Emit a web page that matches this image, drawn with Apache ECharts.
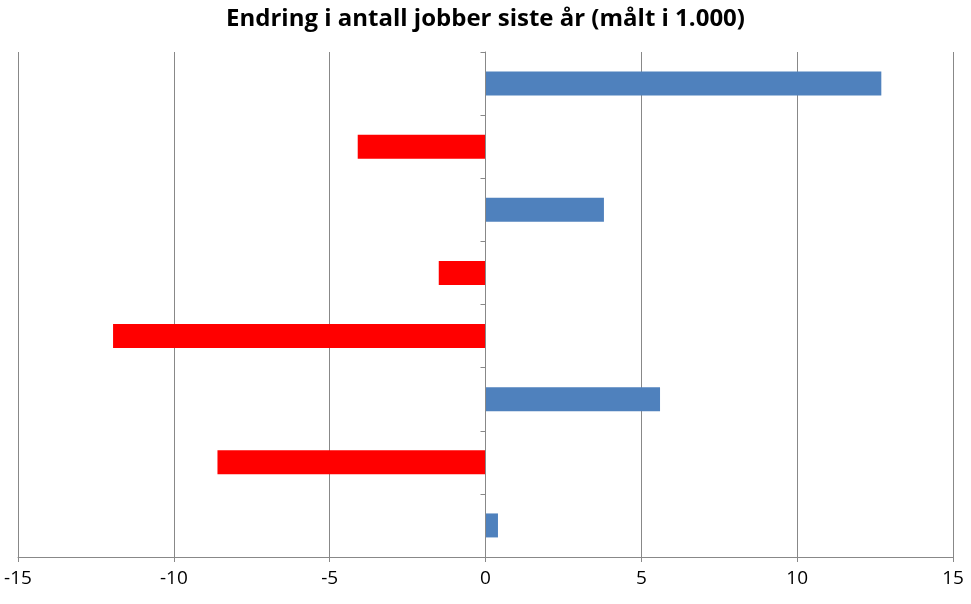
<!DOCTYPE html>
<html><head><meta charset="utf-8">
<script src="https://cdn.jsdelivr.net/npm/echarts@6/dist/echarts.min.js"></script>
<style>html,body{margin:0;padding:0;background:#fff}#c{width:971px;height:604px}</style>
</head><body><div id="c"></div>
<script>
var categories = ["Jordbruk, fiske og oppdrett","Olje og gass","Bygg-- og anlegg","Industri og bergverk","Logistikk, transport og varehandel","Reiseliv","Privat tjenesteyting","Offentlig sektor"];
var values = [0.4,-8.6,5.6,-11.95,-1.5,3.8,-4.1,12.7];
var xTicks = [-15,-10,-5,0,5,10,15];
var chart = echarts.init(document.getElementById('c'));
chart.setOption({
  animation:false,
  title:{text:'Endring i antall jobber siste år (målt i 1.000)',left:'center',top:2,
    textStyle:{fontFamily:'Open Sans',fontWeight:'bold',fontSize:24,color:'#000'}},
  grid:{left:18,right:18,top:52,bottom:47,containLabel:false,outerBoundsMode:'none'},
  xAxis:{type:'value',min:xTicks[0],max:xTicks[xTicks.length-1],interval:5,
    axisLine:{show:true,lineStyle:{color:'#888'}},axisTick:{show:true,length:5,lineStyle:{color:'#888'}},
    splitLine:{show:true,lineStyle:{color:'#888',width:1}},
    axisLabel:{fontFamily:'Open Sans',fontSize:19,color:'#000',margin:12}},
  yAxis:{type:'category',data:categories,z:10,
    axisLine:{show:true,onZero:true,lineStyle:{color:'#888'}},
    axisTick:{show:true,length:5,lineStyle:{color:'#888'}},
    axisLabel:{fontFamily:'Open Sans',fontSize:18,color:'#000',margin:24}},
  series:[{type:'bar',barWidth:'38%',z:2,
    data:values.map(function(v){return {value:v,itemStyle:{color:v<0?'#ff0000':'#4f81bd'}};})}]
});
</script></body></html>
